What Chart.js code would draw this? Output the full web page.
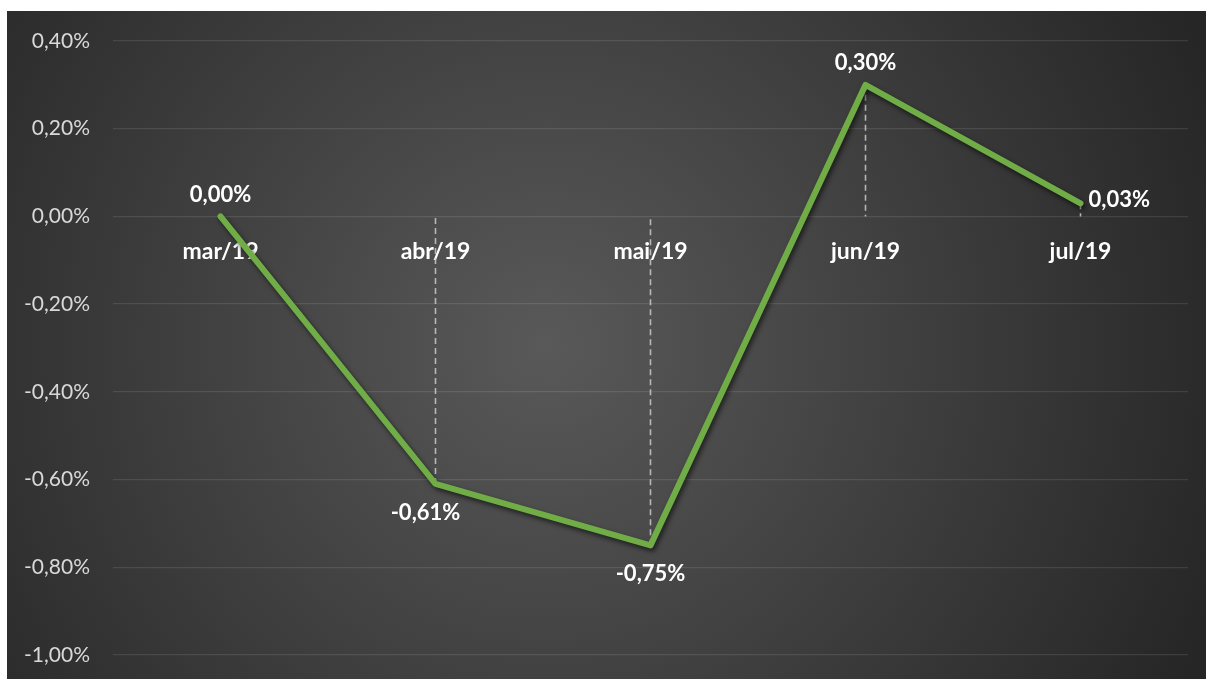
<!DOCTYPE html>
<html lang="pt">
<head>
<meta charset="UTF-8">
<title>Variação mensal</title>
<script src="https://cdn.jsdelivr.net/npm/chart.js"></script>
<style>
  html, body { margin: 0; padding: 0; background: #fff; }
  #wrap { position: absolute; left: 7px; top: 11px; width: 1199px; height: 668px; }
</style>
</head>
<body>
<div id="wrap"><canvas id="chart"></canvas></div>
<script>
// dados
var meses = ['mar/19', 'abr/19', 'mai/19', 'jun/19', 'jul/19'];
var variacao = [0.00, -0.61, -0.75, 0.30, 0.03];
var posRotulo = ['above', 'below', 'below', 'above', 'right'];

function fmt(v) {
  if (Math.abs(v) < 1e-9) v = 0;
  return v.toFixed(2).replace('.', ',') + '%';
}

// fundo com degradê radial
var fundo = {
  id: 'fundo',
  beforeDraw: function(chart) {
    var ctx = chart.ctx, w = chart.width, h = chart.height;
    var g = ctx.createRadialGradient(w * 0.45, h * 0.5, 0, w * 0.45, h * 0.5, w * 0.6);
    g.addColorStop(0, '#595959');
    g.addColorStop(1, '#262626');
    ctx.save();
    ctx.fillStyle = g;
    ctx.fillRect(0, 0, w, h);
    ctx.restore();
  }
};

// linhas verticais tracejadas até o zero + sombra da linha
var linhasQueda = {
  id: 'linhasQueda',
  beforeDatasetsDraw: function(chart) {
    var ctx = chart.ctx;
    var y0 = chart.scales.y.getPixelForValue(0);
    var pts = chart.getDatasetMeta(0).data;
    ctx.save();
    ctx.strokeStyle = 'rgba(210,210,210,0.8)';
    ctx.lineWidth = 1.6;
    ctx.setLineDash([6, 4]);
    pts.forEach(function(p) {
      ctx.beginPath();
      ctx.moveTo(p.x, p.y);
      ctx.lineTo(p.x, y0);
      ctx.stroke();
    });
    ctx.restore();
    ctx.save();
    ctx.shadowColor = 'rgba(0,0,0,0.6)';
    ctx.shadowBlur = 5;
    ctx.shadowOffsetX = 2;
    ctx.shadowOffsetY = 3;
  },
  afterDatasetsDraw: function(chart) {
    chart.ctx.restore();
    // rótulos de dados
    var ctx = chart.ctx;
    var pts = chart.getDatasetMeta(0).data;
    ctx.save();
    ctx.fillStyle = '#ffffff';
    ctx.font = 'bold 22px Lato, "Open Sans", sans-serif';
    ctx.textBaseline = 'middle';
    pts.forEach(function(p, i) {
      var txt = fmt(variacao[i]);
      var pos = posRotulo[i];
      if (pos === 'above') {
        ctx.textAlign = 'center';
        ctx.fillText(txt, p.x, p.y - 22);
      } else if (pos === 'below') {
        ctx.textAlign = 'center';
        ctx.fillText(txt, p.x - (i === 1 ? 10 : 0), p.y + 29);
      } else {
        ctx.textAlign = 'left';
        ctx.fillText(txt, p.x + 8, p.y - 3);
      }
    });
    ctx.restore();
  }
};

var ctx = document.getElementById('chart').getContext('2d');
var chart = new Chart(ctx, {
  type: 'line',
  data: {
    labels: meses,
    datasets: [{
      data: variacao,
      borderColor: '#70ad47',
      borderWidth: 6,
      pointRadius: 0,
      tension: 0,
      borderCapStyle: 'round',
      borderJoinStyle: 'round'
    }]
  },
  options: {
    responsive: true,
    maintainAspectRatio: false,
    animation: false,
    layout: { padding: { top: 30, bottom: 24, left: 0, right: 18 } },
    plugins: {
      legend: { display: false },
      tooltip: { enabled: false }
    },
    scales: {
      x: {
        position: { y: 0 },
        offset: true,
        grid: { display: false, drawTicks: false },
        border: { display: false },
        ticks: {
          color: '#ffffff',
          padding: 21,
          font: { family: 'Lato, "Open Sans", sans-serif', size: 23, weight: 'bold' }
        }
      },
      y: {
        min: -1,
        max: 0.4,
        afterFit: function(s) {
          s.width = 106;
          s.paddingTop = 0;
          s.paddingBottom = 0;
        },
        grid: { color: 'rgba(255,255,255,0.1)', lineWidth: 1.3, drawTicks: false },
        border: { display: false },
        ticks: {
          stepSize: 0.2,
          color: '#d9d9d9',
          padding: 23,
          font: { family: 'Lato, "Open Sans", sans-serif', size: 21 },
          callback: function(v) { return fmt(v); }
        }
      }
    }
  },
  plugins: [fundo, linhasQueda]
});
</script>
</body>
</html>
